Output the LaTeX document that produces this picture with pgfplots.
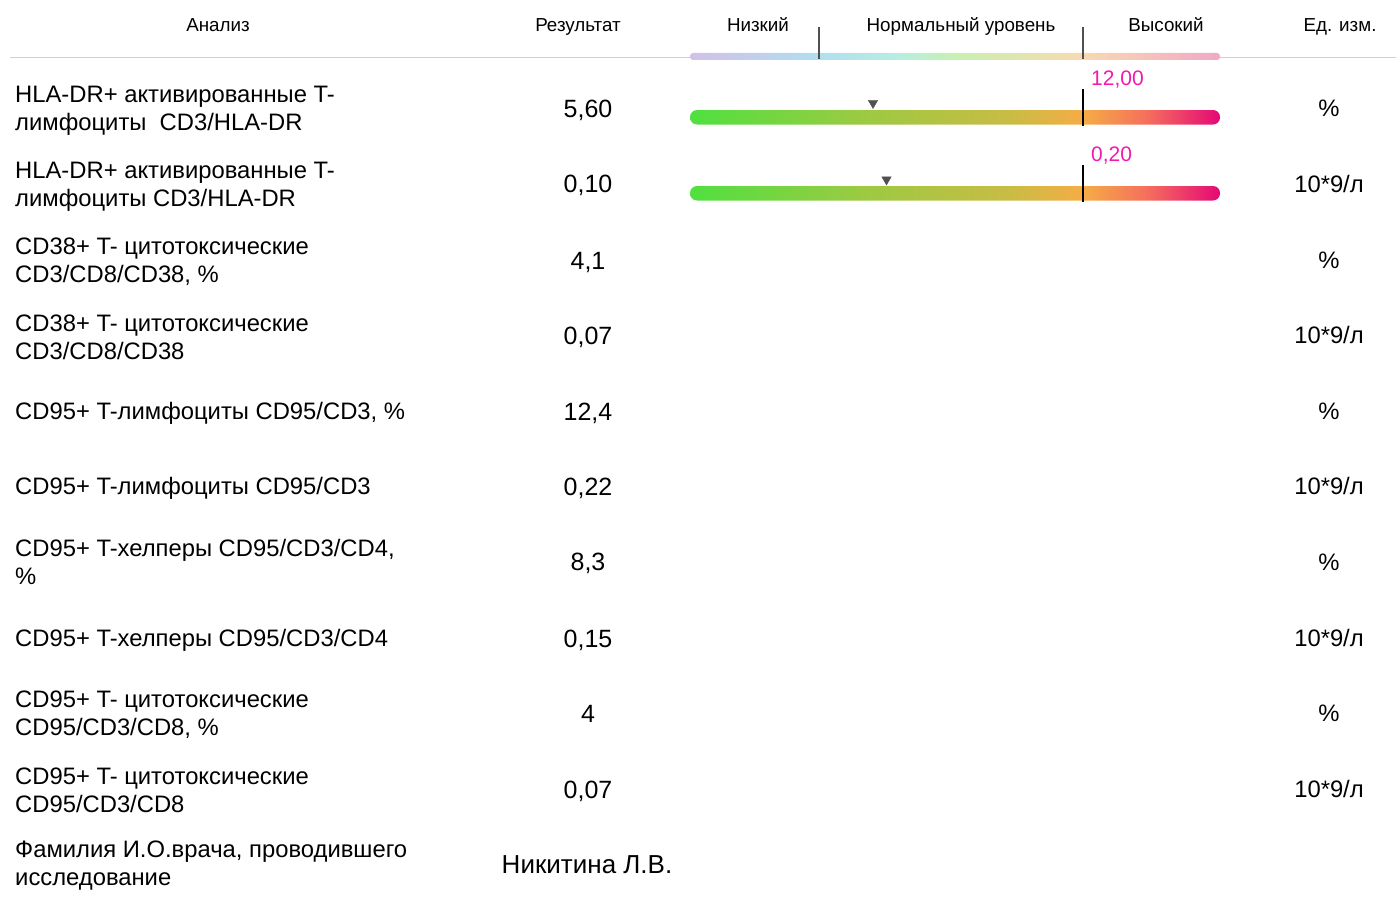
\documentclass[border=0pt]{standalone}
\usepackage{pgfplots}
\pgfplotsset{compat=1.18}
\usepackage{fontspec}
\setmainfont{Liberation Sans}

\definecolor{refpink}{HTML}{F219AE}
\definecolor{rulegray}{HTML}{D0D0D0}
\definecolor{markgray}{HTML}{505050}

% colour bar of a result (stops between 25bp and 75bp = the bar's ends)
\pgfdeclarehorizontalshading{resbar}{100bp}{%
  color(0bp)=(rgb,255:red,80;green,224;blue,64);
  color(25bp)=(rgb,255:red,80;green,224;blue,64);
  color(41bp)=(rgb,255:red,155;green,202;blue,66);
  color(55bp)=(rgb,255:red,200;green,188;blue,69);
  color(62bp)=(rgb,255:red,245;green,173;blue,69);
  color(68bp)=(rgb,255:red,245;green,112;blue,92);
  color(75bp)=(rgb,255:red,229;green,8;blue,118);
  color(100bp)=(rgb,255:red,229;green,8;blue,118)}
% pale bar of the header
\pgfdeclarehorizontalshading{headbar}{100bp}{%
  color(0bp)=(rgb,255:red,210;green,192;blue,232);
  color(25bp)=(rgb,255:red,210;green,192;blue,232);
  color(37bp)=(rgb,255:red,176;green,222;blue,240);
  color(45bp)=(rgb,255:red,184;green,238;blue,224);
  color(50bp)=(rgb,255:red,200;green,240;blue,176);
  color(62bp)=(rgb,255:red,248;green,218;blue,176);
  color(75bp)=(rgb,255:red,240;green,168;blue,200);
  color(100bp)=(rgb,255:red,240;green,168;blue,200)}

\tikzset{
  cell/.style={font=\fontsize{23.8}{28}\selectfont, inner sep=0pt, yshift=-2.5pt},
  val/.style={font=\fontsize{25}{28}\selectfont, inner sep=0pt, anchor=base},
  unit/.style={font=\fontsize{23.8}{28}\selectfont, inner sep=0pt, anchor=base},
  head/.style={font=\fontsize{18.8}{22}\selectfont, inner sep=0pt, anchor=base},
}

\begin{document}
\begin{tikzpicture}
\begin{axis}[
  scale only axis, width=1396pt, height=899pt,
  xmin=0, xmax=1396, ymin=0, ymax=899, y dir=reverse,
  hide axis, clip=false,
  ]
% header
\addplot[draw=rulegray, line width=1.6pt] coordinates {(10,57.5)(1396,57.5)};
\addplot[draw=none, shading=headbar, rounded corners=3pt] coordinates {(690,53)(1220,53)(1220,60)(690,60)} -- cycle;
\addplot[draw=markgray, line width=1.2pt] coordinates {(819,27)(819,59)};
\addplot[draw=markgray, line width=1.2pt] coordinates {(1083,27)(1083,59)};
\node[head] at (axis cs:218,31.5) {Анализ};
\node[head] at (axis cs:578,31.5) {Результат};
\node[head] at (axis cs:758,31.5) {Низкий};
\node[head] at (axis cs:961,31.5) {Нормальный уровень};
\node[head] at (axis cs:1166,31.5) {Высокий};
\node[head] at (axis cs:1340,31.5) {Ед. изм.};

% result bars
\addplot[draw=none, shading=resbar, rounded corners=7pt] coordinates {(690,110)(1220,110)(1220,124.5)(690,124.5)} -- cycle;
\addplot[draw=none, shading=resbar, rounded corners=7pt] coordinates {(690,186)(1220,186)(1220,200.5)(690,200.5)} -- cycle;
% upper limits
\addplot[draw=black, line width=2.4pt] coordinates {(1083,89)(1083,126)};
\addplot[draw=black, line width=2.4pt] coordinates {(1083,165)(1083,202)};
% results on the scale: 5,60 of 12,00 and 0,10 of 0,20
\addplot[only marks, mark=triangle*, mark size=5.5pt, mark options={rotate=180, fill=markgray, draw=markgray}]
  coordinates {(873,103)(886.5,179.5)};
\node[font=\fontsize{21}{24}\selectfont, inner sep=0pt, text=refpink, anchor=base west] at (axis cs:1091,85.5) {12,00};
\node[font=\fontsize{21}{24}\selectfont, inner sep=0pt, text=refpink, anchor=base west] at (axis cs:1091,161.5) {0,20};

% rows
\begin{scope}[every node/.style={cell, anchor=west, align=left}]
\node at (axis cs:15,108) {HLA-DR+ активированные T-\\лимфоциты \ CD3/HLA-DR};
\node at (axis cs:15,184) {HLA-DR+ активированные T-\\лимфоциты CD3/HLA-DR};
\node at (axis cs:15,259) {CD38+ T- цитотоксические\\CD3/CD8/CD38, \%};
\node at (axis cs:15,334.5) {CD38+ T- цитотоксические\\CD3/CD8/CD38};
\node at (axis cs:15,411) {CD95+ T-лимфоциты CD95/CD3, \%};
\node at (axis cs:15,486) {CD95+ T-лимфоциты CD95/CD3};
\node at (axis cs:15,559.5) {CD95+ T-хелперы CD95/CD3/CD4,\\\%};
\node at (axis cs:15,638) {CD95+ T-хелперы CD95/CD3/CD4};
\node at (axis cs:15,712) {CD95+ T- цитотоксические\\CD95/CD3/CD8, \%};
\node at (axis cs:15,787.5) {CD95+ T- цитотоксические\\CD95/CD3/CD8};
\node at (axis cs:15,863.5) {Фамилия И.О.врача, проводившего\\исследование};
\end{scope}
\begin{scope}[every node/.style={val}]
\node at (axis cs:588,117.5) {5,60};
\node at (axis cs:588,192.5) {0,10};
\node at (axis cs:588,269) {4,1};
\node at (axis cs:588,344) {0,07};
\node at (axis cs:588,420) {12,4};
\node at (axis cs:588,495) {0,22};
\node at (axis cs:588,570.5) {8,3};
\node at (axis cs:588,647) {0,15};
\node at (axis cs:588,722) {4};
\node at (axis cs:588,798) {0,07};
\node[font=\fontsize{26}{28}\selectfont] at (axis cs:587,873) {Никитина Л.В.};
\end{scope}
\begin{scope}[every node/.style={unit}]
\node at (axis cs:1329,116.5) {\%};
\node at (axis cs:1329,192.5) {10*9/л};
\node at (axis cs:1329,268.5) {\%};
\node at (axis cs:1329,343.5) {10*9/л};
\node at (axis cs:1329,419.5) {\%};
\node at (axis cs:1329,494.5) {10*9/л};
\node at (axis cs:1329,570.5) {\%};
\node at (axis cs:1329,646.5) {10*9/л};
\node at (axis cs:1329,721.5) {\%};
\node at (axis cs:1329,797.5) {10*9/л};
\end{scope}
\end{axis}
\pgfresetboundingbox
\path (0,0) rectangle (1396pt,899pt);
\end{tikzpicture}
\end{document}
